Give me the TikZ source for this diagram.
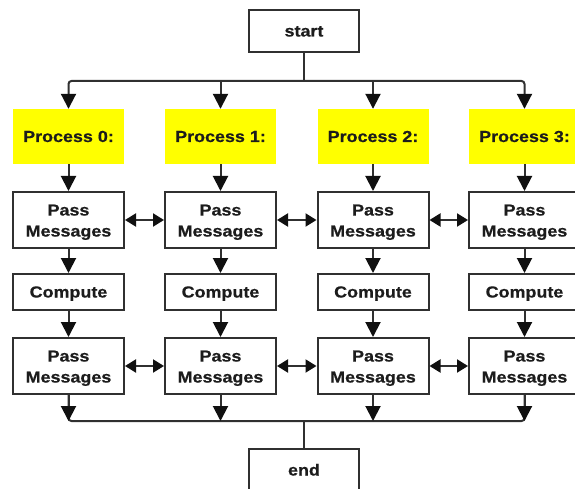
\documentclass[tikz,border=0pt]{standalone}
\usepackage{fontspec}
\setmainfont{Liberation Sans}[FakeStretch=1.12, BoldFeatures={FakeBold=0.6}]
\usetikzlibrary{arrows.meta}
\definecolor{ink}{HTML}{303030}
\definecolor{tip}{HTML}{101010}
\definecolor{txt}{HTML}{1C1C1C}
\definecolor{hilite}{HTML}{FFFF00}
% taller first line so two-line labels sit a little lower in their box
\newcommand\firstlinestrut{\rule{0pt}{15.5pt}}
\tikzset{
  lbl/.style={font=\fontsize{16}{21}\selectfont\bfseries, text=txt, align=center, inner sep=0pt},
  oneline/.style={text height=12.5pt, text depth=1.5pt},
  box/.style={lbl, draw=ink, line width=2pt, fill=white, minimum width=111pt},
  procbox/.style={lbl, oneline, fill=hilite, minimum width=111pt, minimum height=55pt},
  passbox/.style={box, minimum height=56pt},
  compbox/.style={box, oneline, minimum height=36pt},
  termbox/.style={box, oneline, minimum width=110pt, minimum height=42pt},
  wire/.style={draw=ink, line width=2pt},
  arr/.style={wire, -{Triangle[length=15pt,width=15pt,color=tip]}},
  biarr/.style={wire, {Triangle[length=11pt,width=13pt,color=tip]}-{Triangle[length=11pt,width=13pt,color=tip]}}
}
\begin{document}
\begin{tikzpicture}[x=1pt, y=-1pt]
  \useasboundingbox (0,0) rectangle (575,489);
  \clip (0,0) rectangle (575,489);
  \fill[white] (0,0) rectangle (575,489);

  % start and end terminals
  \node[termbox] (start) at (304,31) {start};
  \node[termbox] (end) at (304,470) {end};

  % four process columns
  \foreach \i/\x in {0/68.5, 1/220.5, 2/373, 3/524.5} {
    \node[procbox] (proc\i) at (\x,136.5) {Process \i:};
    \node[passbox] (passA\i) at (\x,220) {\firstlinestrut Pass\\Messages};
    \node[compbox] (comp\i) at (\x,292) {Compute};
    \node[passbox] (passB\i) at (\x,366) {\firstlinestrut Pass\\Messages};
  }

  % fan-out bus from start, fan-in bus to end
  \coordinate (top) at (304,81);
  \coordinate (bot) at (304,421);
  \draw[wire] (start.south) -- (top);
  \draw[wire] (bot) -- (end.north);
  \draw[arr, rounded corners=3pt] (top) -- (proc0.north |- top) -- (proc0.north);
  \draw[arr, rounded corners=3pt] (top) -- (proc3.north |- top) -- (proc3.north);
  \draw[arr] (proc1.north |- top) -- (proc1.north);
  \draw[arr] (proc2.north |- top) -- (proc2.north);
  \draw[wire, rounded corners=3pt] (passB0.south) -- (passB0.south |- bot) -- (passB3.south |- bot) -- (passB3.south);

  \foreach \i in {0,1,2,3} {
    \draw[arr] (proc\i.south) -- (passA\i.north);
    \draw[arr] (passA\i.south) -- (comp\i.north);
    \draw[arr] (comp\i.south) -- (passB\i.north);
    \draw[arr] (passB\i.south) -- (passB\i.south |- bot);
  }

  % message exchange between neighbours
  \foreach \i/\j in {0/1, 1/2, 2/3} {
    \draw[biarr] (passA\i.east) -- (passA\j.west);
    \draw[biarr] (passB\i.east) -- (passB\j.west);
  }
\end{tikzpicture}
\end{document}
